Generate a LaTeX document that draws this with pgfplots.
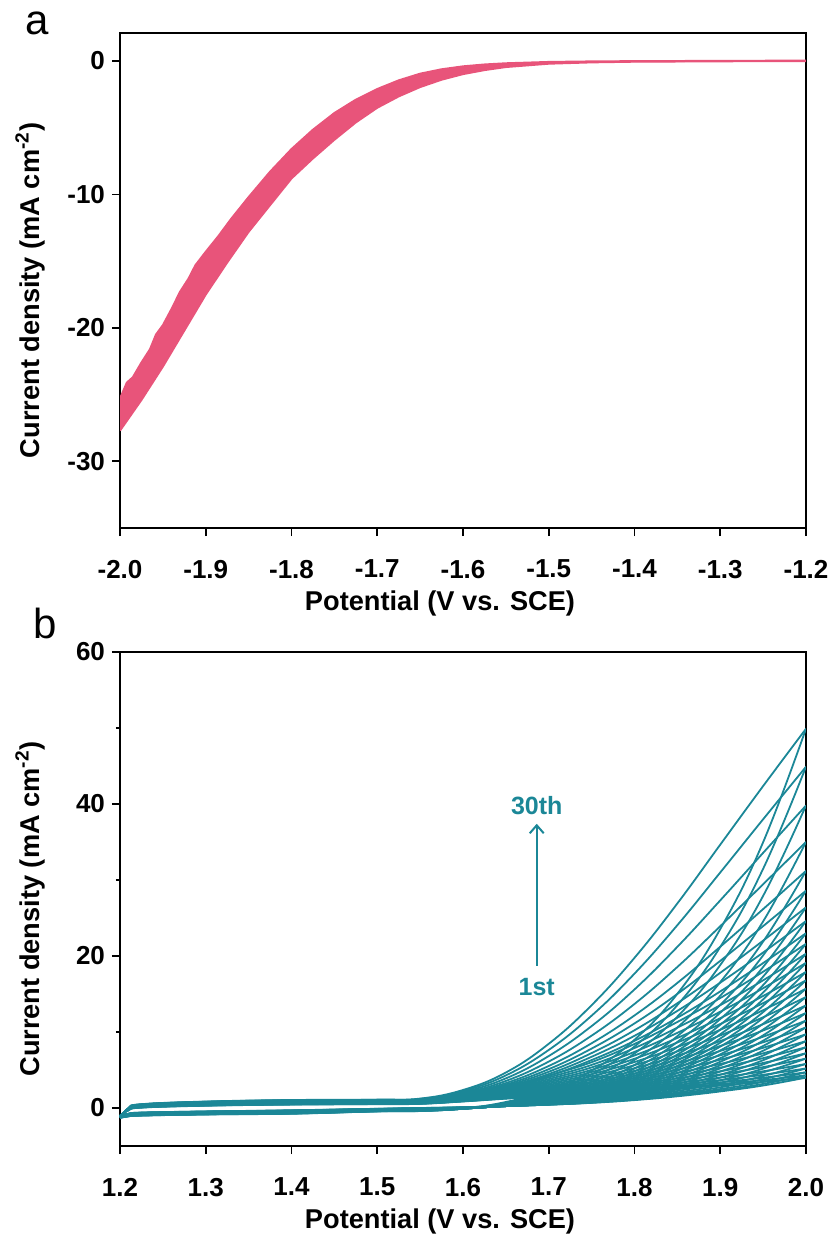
\documentclass[border=0pt]{standalone}
\usepackage{fontspec}
\setmainfont{Liberation Sans}
\usepackage{pgfplots}
\pgfplotsset{compat=1.18}
\usepackage{pgfplotstable}
\usepgfplotslibrary{fillbetween}
\usetikzlibrary{arrows.meta}

\definecolor{lsvpink}{HTML}{E8547A}
\definecolor{cvteal}{HTML}{1B8797}

% (a) LSV cycling: upper and lower envelope of the overlapping scans
\pgfplotstableread{
x y
-2.000 -25.3
-1.992 -24.1
-1.985 -23.7
-1.975 -22.6
-1.965 -21.6
-1.958 -20.5
-1.950 -19.8
-1.940 -18.6
-1.930 -17.3
-1.920 -16.3
-1.912 -15.3
-1.900 -14.3
-1.885 -13.1
-1.870 -11.8
-1.850 -10.2
-1.825 -8.3
-1.800 -6.6
-1.775 -5.15
-1.750 -3.9
-1.725 -2.9
-1.700 -2.1
-1.675 -1.45
-1.650 -0.95
-1.625 -0.62
-1.600 -0.40
-1.575 -0.26
-1.550 -0.17
-1.500 -0.07
-1.450 -0.03
-1.400 -0.01
-1.300 0.01
-1.200 0.03
}\lsvupper

\pgfplotstableread{
x y
-2.000 -27.7
-1.975 -25.4
-1.950 -22.9
-1.925 -20.2
-1.900 -17.5
-1.875 -15.1
-1.850 -12.8
-1.825 -10.8
-1.800 -8.8
-1.775 -7.3
-1.750 -5.9
-1.725 -4.6
-1.700 -3.5
-1.675 -2.65
-1.650 -1.95
-1.625 -1.4
-1.600 -0.98
-1.575 -0.68
-1.550 -0.45
-1.500 -0.20
-1.450 -0.10
-1.400 -0.05
-1.300 -0.02
-1.200 0.00
}\lsvlower

% (b) CV cycles 1-30: anodic (forward) branches
\pgfplotstableread{
x c1 c2 c3 c4 c5 c6 c7 c8 c9 c10 c11 c12 c13 c14 c15 c16 c17 c18 c19 c20 c21 c22 c23 c24 c25 c26 c27 c28 c29 c30
1.200 -1.00 -1.01 -1.02 -1.03 -1.04 -1.05 -1.06 -1.07 -1.08 -1.09 -1.10 -1.11 -1.12 -1.13 -1.14 -1.16 -1.17 -1.18 -1.19 -1.20 -1.21 -1.22 -1.23 -1.24 -1.25 -1.26 -1.27 -1.28 -1.29 -1.30
1.210 -0.30 -0.29 -0.28 -0.27 -0.26 -0.25 -0.24 -0.23 -0.22 -0.21 -0.20 -0.19 -0.18 -0.17 -0.16 -0.14 -0.13 -0.12 -0.11 -0.10 -0.09 -0.08 -0.07 -0.06 -0.05 -0.04 -0.03 -0.02 -0.01 0.00
1.225 0.05 0.07 0.08 0.10 0.11 0.13 0.14 0.16 0.17 0.19 0.21 0.22 0.24 0.25 0.27 0.28 0.30 0.31 0.33 0.35 0.36 0.38 0.39 0.41 0.42 0.44 0.45 0.47 0.48 0.50
1.300 0.30 0.32 0.34 0.36 0.38 0.40 0.41 0.43 0.45 0.47 0.49 0.51 0.53 0.55 0.57 0.58 0.60 0.62 0.64 0.66 0.68 0.70 0.72 0.74 0.76 0.77 0.79 0.81 0.83 0.85
1.400 0.45 0.47 0.49 0.51 0.53 0.55 0.57 0.59 0.62 0.64 0.66 0.68 0.70 0.72 0.74 0.76 0.78 0.80 0.82 0.84 0.86 0.88 0.91 0.93 0.95 0.97 0.99 1.01 1.03 1.05
1.500 0.50 0.52 0.54 0.56 0.58 0.60 0.62 0.64 0.67 0.69 0.71 0.73 0.75 0.77 0.79 0.81 0.83 0.85 0.87 0.89 0.91 0.93 0.96 0.98 1.00 1.02 1.04 1.06 1.08 1.10
1.550 0.55 0.57 0.58 0.60 0.62 0.64 0.66 0.68 0.69 0.71 0.73 0.75 0.77 0.79 0.81 0.84 0.86 0.88 0.90 0.92 0.95 0.97 0.99 1.02 1.05 1.08 1.11 1.15 1.20 1.24
1.600 0.86 0.88 0.90 0.93 0.95 0.98 1.00 1.03 1.06 1.10 1.13 1.16 1.20 1.23 1.27 1.31 1.35 1.39 1.44 1.48 1.53 1.58 1.63 1.70 1.77 1.85 1.95 2.09 2.23 2.37
1.650 1.23 1.26 1.29 1.33 1.37 1.41 1.46 1.51 1.57 1.63 1.69 1.76 1.83 1.91 1.99 2.08 2.17 2.26 2.36 2.46 2.57 2.63 2.77 2.91 3.08 3.28 3.56 3.90 4.29 4.67
1.700 1.57 1.61 1.66 1.72 1.79 1.88 1.97 2.07 2.18 2.30 2.42 2.56 2.70 2.86 3.03 3.21 3.40 3.59 3.80 4.02 4.26 4.22 4.47 4.77 5.11 5.53 6.11 6.84 7.64 8.45
1.750 1.93 1.99 2.06 2.16 2.27 2.40 2.54 2.70 2.86 3.05 3.25 3.45 3.68 3.91 4.18 4.45 4.73 5.02 5.34 5.67 6.03 6.31 6.74 7.23 7.82 8.52 9.52 10.78 12.15 13.53
1.800 2.22 2.31 2.42 2.56 2.73 2.93 3.14 3.39 3.64 3.93 4.23 4.54 4.88 5.24 5.64 6.05 6.48 6.91 7.39 7.89 8.43 8.84 9.50 10.23 11.13 12.18 13.69 15.60 17.68 19.76
1.850 2.55 2.67 2.84 3.05 3.30 3.59 3.90 4.25 4.62 5.03 5.46 5.89 6.39 6.89 7.45 8.03 8.62 9.22 9.89 10.57 11.32 11.88 12.78 13.79 15.01 16.46 18.56 21.21 24.06 26.92
1.900 2.97 3.14 3.37 3.66 4.00 4.41 4.83 5.31 5.80 6.36 6.93 7.51 8.16 8.81 9.55 10.29 11.05 11.82 12.67 13.53 14.47 15.34 16.49 17.79 19.36 21.22 23.92 27.32 30.99 34.65
1.950 3.44 3.67 3.98 4.37 4.83 5.38 5.93 6.56 7.20 7.92 8.65 9.38 10.20 11.03 11.94 12.87 13.80 14.74 15.76 16.80 17.93 19.07 20.46 22.02 23.93 26.17 29.44 33.57 37.99 42.36
2.000 4.0 4.3 4.7 5.2 5.8 6.5 7.2 8.0 8.8 9.7 10.6 11.5 12.5 13.5 14.6 15.7 16.8 17.9 19.1 20.3 21.6 23.0 24.6 26.4 28.6 31.2 35.0 39.8 44.9 49.9
}\cvfwd

% (b) CV cycles 1-30: cathodic (reverse) branches
\pgfplotstableread{
x c1 c2 c3 c4 c5 c6 c7 c8 c9 c10 c11 c12 c13 c14 c15 c16 c17 c18 c19 c20 c21 c22 c23 c24 c25 c26 c27 c28 c29 c30
2.000 4.0 4.3 4.7 5.2 5.8 6.5 7.2 8.0 8.8 9.7 10.6 11.5 12.5 13.5 14.6 15.7 16.8 17.9 19.1 20.3 21.6 23.0 24.6 26.4 28.6 31.2 35.0 39.8 44.9 49.9
1.950 2.96 3.17 3.44 3.79 4.20 4.69 5.18 5.73 6.29 6.91 7.54 8.16 8.86 9.56 10.32 11.09 11.85 12.62 13.46 14.29 15.20 16.17 17.29 18.55 20.08 21.90 24.55 27.91 31.47 34.97
1.900 2.18 2.31 2.49 2.72 2.99 3.31 3.64 4.01 4.37 4.79 5.21 5.62 6.08 6.55 7.06 7.57 8.08 8.59 9.14 9.70 10.30 10.95 11.70 12.54 13.56 14.78 16.56 18.81 21.19 23.54
1.850 1.54 1.62 1.73 1.87 2.04 2.24 2.44 2.67 2.90 3.16 3.42 3.68 3.97 4.27 4.59 4.91 5.23 5.55 5.90 6.25 6.63 7.04 7.51 8.04 8.69 9.46 10.59 12.02 13.54 15.03
1.800 1.04 1.09 1.15 1.23 1.32 1.44 1.55 1.68 1.82 1.97 2.12 2.27 2.44 2.61 2.79 2.98 3.17 3.35 3.56 3.76 3.99 4.23 4.50 4.82 5.20 5.66 6.33 7.18 8.09 8.98
1.750 0.68 0.70 0.73 0.76 0.81 0.87 0.93 0.99 1.06 1.14 1.22 1.29 1.38 1.47 1.57 1.66 1.76 1.86 1.97 2.07 2.19 2.32 2.47 2.64 2.84 3.09 3.46 3.93 4.42 4.91
1.700 0.44 0.44 0.45 0.46 0.48 0.50 0.52 0.55 0.58 0.61 0.64 0.67 0.71 0.75 0.79 0.83 0.87 0.91 0.96 1.01 1.06 1.11 1.18 1.26 1.36 1.47 1.65 1.88 2.12 2.36
1.650 0.27 0.26 0.25 0.25 0.25 0.25 0.25 0.25 0.25 0.26 0.26 0.27 0.27 0.28 0.29 0.30 0.31 0.31 0.33 0.34 0.35 0.36 0.38 0.40 0.43 0.47 0.53 0.62 0.71 0.79
1.600 0.10 0.09 0.08 0.07 0.06 0.05 0.04 0.03 0.02 0.01 0.00 -0.01 -0.02 -0.03 -0.04 -0.04 -0.05 -0.06 -0.07 -0.08 -0.08 -0.09 -0.09 -0.10 -0.10 -0.10 -0.10 -0.09 -0.08 -0.06
1.550 0.00 -0.01 -0.03 -0.04 -0.06 -0.07 -0.08 -0.10 -0.11 -0.12 -0.14 -0.15 -0.17 -0.18 -0.19 -0.21 -0.22 -0.23 -0.25 -0.26 -0.28 -0.29 -0.30 -0.32 -0.33 -0.35 -0.36 -0.37 -0.39 -0.40
1.500 -0.10 -0.11 -0.12 -0.14 -0.15 -0.16 -0.17 -0.18 -0.20 -0.21 -0.22 -0.23 -0.25 -0.26 -0.27 -0.28 -0.29 -0.31 -0.32 -0.33 -0.34 -0.35 -0.37 -0.38 -0.39 -0.40 -0.41 -0.43 -0.44 -0.45
1.400 -0.30 -0.32 -0.33 -0.35 -0.36 -0.38 -0.39 -0.41 -0.42 -0.44 -0.46 -0.47 -0.49 -0.50 -0.52 -0.53 -0.55 -0.56 -0.58 -0.60 -0.61 -0.63 -0.64 -0.66 -0.67 -0.69 -0.70 -0.72 -0.73 -0.75
1.300 -0.45 -0.46 -0.48 -0.49 -0.51 -0.52 -0.53 -0.55 -0.56 -0.57 -0.59 -0.60 -0.62 -0.63 -0.64 -0.66 -0.67 -0.68 -0.70 -0.71 -0.73 -0.74 -0.75 -0.77 -0.78 -0.80 -0.81 -0.82 -0.84 -0.85
1.225 -0.60 -0.61 -0.63 -0.64 -0.66 -0.67 -0.68 -0.70 -0.71 -0.72 -0.74 -0.75 -0.77 -0.78 -0.79 -0.81 -0.82 -0.83 -0.85 -0.86 -0.88 -0.89 -0.90 -0.92 -0.93 -0.95 -0.96 -0.97 -0.99 -1.00
1.210 -0.75 -0.76 -0.77 -0.79 -0.80 -0.81 -0.82 -0.83 -0.85 -0.86 -0.87 -0.88 -0.90 -0.91 -0.92 -0.93 -0.94 -0.96 -0.97 -0.98 -0.99 -1.00 -1.02 -1.03 -1.04 -1.05 -1.06 -1.08 -1.09 -1.10
1.200 -1.00 -1.01 -1.02 -1.03 -1.04 -1.05 -1.06 -1.07 -1.08 -1.09 -1.10 -1.11 -1.12 -1.13 -1.14 -1.16 -1.17 -1.18 -1.19 -1.20 -1.21 -1.22 -1.23 -1.24 -1.25 -1.26 -1.27 -1.28 -1.29 -1.30
}\cvrev

\pgfplotsset{
  panel/.style={
    scale only axis,
    width=343pt,
    axis line style={line width=1pt},
    tick style={line width=0.8pt, black},
    tick align=outside,
    major tick length=4pt,
    minor tick length=2pt,
    xtick pos=lower,
    ytick pos=left,
    ticklabel style={font=\fontsize{13}{15}\selectfont\bfseries},
    xticklabel style={yshift=-8.5pt},
    label style={font=\fontsize{13.6}{16}\selectfont\bfseries},
    xlabel style={at={(axis description cs:0.4665,-0.153)}, anchor=center},
    ylabel style={at={(axis description cs:-0.1312,0.48)}, anchor=center},
    xlabel={Potential (V vs. SCE)},
    ylabel={Current density (mA cm\textsuperscript{-2})},
  }
}

\begin{document}
\begin{tikzpicture}
% page frame
\path (0,0) rectangle (417.5pt,-621.5pt);

% panel letters
\node[font=\fontsize{21}{24}\selectfont] at (18.75pt,-11.5pt) {a};
\node[font=\fontsize{21}{24}\selectfont] at (22.5pt,-311.75pt) {b};

% (a) repeated cathodic LSV scans
\begin{axis}[panel,
  at={(60pt,-16.5pt)}, anchor=north west,
  height=247.5pt,
  xmin=-2.0, xmax=-1.2, ymin=-35, ymax=2.1,
  xtick={-2.0,-1.9,-1.8,-1.7,-1.6,-1.5,-1.4,-1.3,-1.2},
  xticklabels={-2.0,-1.9,-1.8,-1.7,-1.6,-1.5,-1.4,-1.3,-1.2},
  ytick={-30,-20,-10,0},
  yticklabels={-30,-20,-10,0},
]
\addplot[name path=up, lsvpink, line width=1pt] table[x=x, y=y] {\lsvupper};
\addplot[name path=lo, lsvpink, line width=1pt] table[x=x, y=y] {\lsvlower};
\addplot[lsvpink] fill between[of=up and lo];
\end{axis}

% (b) 30 CV cycles
\begin{axis}[panel,
  at={(60pt,-326pt)}, anchor=north west,
  height=247pt,
  xmin=1.2, xmax=2.0, ymin=-5, ymax=60,
  xtick={1.2,1.3,1.4,1.5,1.6,1.7,1.8,1.9,2.0},
  xticklabels={1.2,1.3,1.4,1.5,1.6,1.7,1.8,1.9,2.0},
  ytick={0,20,40,60},
  yticklabels={0,20,40,60},
  minor ytick={10,30,50},
]
\pgfplotsinvokeforeach{1,...,30}{
  \addplot[cvteal, line width=0.9pt, smooth, tension=0.7] table[x=x, y=c#1] {\cvfwd};
  \addplot[cvteal, line width=0.9pt, smooth, tension=0.7] table[x=x, y=c#1] {\cvrev};
}
\draw[cvteal, line width=1pt, -{Straight Barb[length=4pt,width=7pt,line width=1pt]}]
  (axis cs:1.686,18.7) -- (axis cs:1.686,37.4);
\node[cvteal, font=\fontsize{12.5}{14}\selectfont\bfseries] at (axis cs:1.686,39.8) {30th};
\node[cvteal, font=\fontsize{12.5}{14}\selectfont\bfseries] at (axis cs:1.686,15.9) {1st};
\end{axis}
\end{tikzpicture}
\end{document}
